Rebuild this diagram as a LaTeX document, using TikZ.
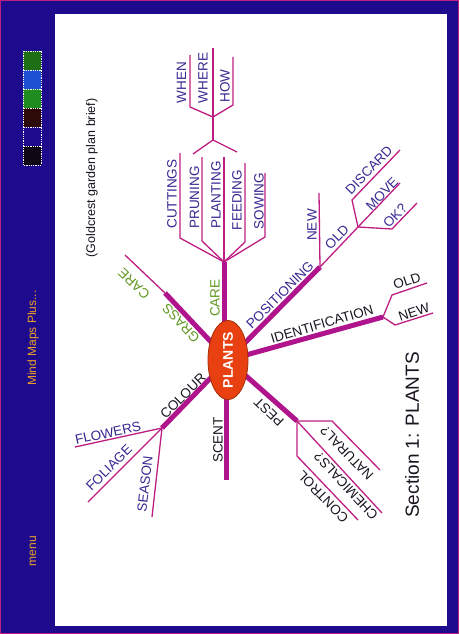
\documentclass[tikz,border=0pt]{standalone}
\usepackage{fontspec}
\setmainfont{Liberation Sans}
\usetikzlibrary{shapes.geometric}
\definecolor{frameblue}{RGB}{30,10,140}
\definecolor{mag}{RGB}{176,20,140}
\definecolor{thinmag}{RGB}{190,30,130}
\definecolor{purp}{RGB}{55,40,145}
\definecolor{grn}{RGB}{95,150,30}
\definecolor{orng}{RGB}{235,160,40}
\definecolor{plred}{RGB}{232,64,16}
\definecolor{ink}{RGB}{25,20,30}
\definecolor{swA}{RGB}{30,110,20}
\definecolor{swB}{RGB}{30,80,210}
\definecolor{swC}{RGB}{30,140,30}
\definecolor{swD}{RGB}{45,10,8}
\definecolor{swE}{RGB}{30,10,140}
\definecolor{swF}{RGB}{15,8,20}
\begin{document}
\begin{tikzpicture}[x=1pt,y=-1pt,
  trunk/.style={draw=mag,line width=5pt},
  twig/.style={draw=thinmag,line width=1.3pt,line join=round},
  lbl/.style={font=\fontsize{13.5}{15}\selectfont,inner sep=0pt},
  pl/.style={lbl,text=purp},
  bk/.style={lbl,text=ink},
  gn/.style={lbl,text=grn},
  swatch/.style={draw=white,densely dotted,line width=0.8pt}]
\useasboundingbox (0,0) rectangle (459,634);
\fill[frameblue] (0,0) rectangle (459,634);
\draw[thinmag,line width=0.8pt] (0.5,0.5) rectangle (458.5,633.5);
\fill[white] (55,14) rectangle (447,626);
% colour swatches
\foreach \c [count=\i from 0] in {swA,swB,swC,swD,swE,swF}
  \filldraw[fill=\c,swatch] (23,{51+19*\i}) rectangle (41,{70+19*\i});
\node[rotate=90,text=orng,font=\fontsize{12}{14}\selectfont,inner sep=0pt] (brand) at (33,338) {Mind Maps Plus...};
\node[rotate=90,text=orng,font=\fontsize{12}{14}\selectfont,inner sep=0pt] (menu) at (33,551) {menu};

% coordinates
\coordinate (pc) at (228,360);
\coordinate (caresrc) at (224,345);
\coordinate (care) at (224,262);
\coordinate (pos) at (320,267);
\coordinate (idn) at (383,317);
\coordinate (pest) at (297,421);
\coordinate (scsrc) at (226,380);
\coordinate (scent) at (226,480);
\coordinate (col) at (162,428);
\coordinate (gr) at (165,293);
\coordinate (grend) at (125,255);

% main trunks
\draw[trunk] (caresrc) -- (care);
\draw[trunk] (pc) -- (pos);
\draw[trunk] (pc) -- (idn);
\draw[trunk] (pc) -- (pest);
\draw[trunk] (scsrc) -- (scent);
\draw[trunk] (pc) -- (col);
\draw[trunk] (pc) -- (gr);
\draw[twig] (gr) -- (grend);

% care twigs
\coordinate (cutA) at (180,238); \coordinate (cutB) at (180,153);
\coordinate (prA) at (202,241);  \coordinate (prB) at (202,157);
\coordinate (plB) at (224,157);
\coordinate (feA) at (245,242);  \coordinate (feB) at (245,163);
\coordinate (soA) at (265,237);  \coordinate (soB) at (265,173);
\draw[twig] (care) -- (cutA) -- (cutB);
\draw[twig] (care) -- (prA) -- (prB);
\draw[twig] (care) -- (plB);
\draw[twig] (care) -- (feA) -- (feB);
\draw[twig] (care) -- (soA) -- (soB);

% when / where / how
\coordinate (wj) at (213,140); \coordinate (wk) at (213,117);
\coordinate (wl) at (193,154); \coordinate (wr) at (237,152);
\coordinate (whA) at (190,107); \coordinate (whB) at (190,55);
\coordinate (wrB) at (213,48);
\coordinate (hoA) at (233,105); \coordinate (hoB) at (233,57);
\draw[twig] (wl) -- (wj) -- (wr);
\draw[twig] (wj) -- (wk);
\draw[twig] (wk) -- (whA) -- (whB);
\draw[twig] (wk) -- (wrB);
\draw[twig] (wk) -- (hoA) -- (hoB);

% positioning twigs
\coordinate (pnew) at (319,193);
\coordinate (oldj) at (358,227);
\coordinate (diA) at (352,200); \coordinate (diB) at (400,150);
\coordinate (mvB) at (400,183);
\coordinate (okA) at (392,229); \coordinate (okB) at (417,203);
\draw[twig] (pos) -- (pnew);
\draw[twig] (pos) -- (oldj);
\draw[twig] (oldj) -- (diA) -- (diB);
\draw[twig] (oldj) -- (mvB);
\draw[twig] (oldj) -- (okA) -- (okB);

% identification twigs
\coordinate (ioA) at (392,295); \coordinate (ioB) at (427,283);
\coordinate (inA) at (395,325); \coordinate (inB) at (433,313);
\draw[twig] (idn) -- (ioA) -- (ioB);
\draw[twig] (idn) -- (inA) -- (inB);

% pest twigs
\coordinate (naA) at (332,421); \coordinate (naB) at (380,470);
\coordinate (chB) at (382,513);
\coordinate (coA) at (297,456); \coordinate (coB) at (358,520);
\draw[twig] (pest) -- (naA) -- (naB);
\draw[twig] (pest) -- (chB);
\draw[twig] (pest) -- (coA) -- (coB);

% colour twigs
\coordinate (flB) at (75,447);
\coordinate (foB) at (88,502);
\coordinate (seB) at (152,517);
\draw[twig] (col) -- (flB);
\draw[twig] (col) -- (foB);
\draw[twig] (col) -- (seB);

% centre
\node[ellipse,fill=plred,draw=plred!70!black,line width=0.8pt,minimum width=76pt,minimum height=40pt,
      rotate=90,inner sep=0pt,text=white,font=\bfseries\fontsize{14}{16}\selectfont] (plants) at (pc) {PLANTS};

% labels
\node[gn,rotate=90] (tcare) at (215,298) {CARE};
\node[pl,rotate=90] (tcut) at (172,194) {CUTTINGS};
\node[pl,rotate=90] (tpru) at (194.5,197.5) {PRUNING};
\node[pl,rotate=90] (tpla) at (216,195) {PLANTING};
\node[pl,rotate=90] (tfee) at (237,200) {FEEDING};
\node[pl,rotate=90] (tsow) at (259,201) {SOWING};
\node[pl,rotate=90] (twhen) at (181.5,82.5) {WHEN};
\node[pl,rotate=90] (twhere) at (203,78) {WHERE};
\node[pl,rotate=90] (thow) at (225,86) {HOW};

\node[pl,rotate=45] (tpos) at (280,295) {POSITIONING};
\node[pl,rotate=90] (tpnew) at (312,225) {NEW};
\node[pl,rotate=46] (tpold) at (337,237) {OLD};
\node[pl,rotate=46] (tdis) at (369,170) {DISCARD};
\node[pl,rotate=46] (tmov) at (382,194) {MOVE};
\node[pl,rotate=46] (tok) at (395,216) {OK?};

\node[bk,rotate=16.5] (tid) at (322,324) {IDENTIFICATION};
\node[bk,rotate=18] (tiold) at (407,281) {OLD};
\node[bk,rotate=18] (tinew) at (414,312) {NEW};

\node[bk,rotate=136] (tpest) at (269,412) {PEST};
\node[bk,rotate=134] (tnat) at (347,453) {NATURAL?};
\node[bk,rotate=133] (tchem) at (346,486) {CHEMICALS?};
\node[bk,rotate=134] (tcon) at (323,497) {CONTROL};

\node[bk,rotate=90] (tscent) at (218,440) {SCENT};
\node[bk,rotate=45] (tcol) at (183,396) {COLOUR};
\node[pl,rotate=12.3] (tflo) at (108,433) {FLOWERS};
\node[pl,rotate=45] (tfol) at (109,468) {FOLIAGE};
\node[pl,rotate=83.6] (tsea) at (145,484) {SEASON};

\node[gn,rotate=133] (tgrass) at (181,323) {GRASS};
\node[gn,rotate=136.5] (tgcare) at (134,284) {CARE};

\node[rotate=90,text=ink,font=\fontsize{12.5}{14}\selectfont,inner sep=0pt] (brief) at (92,178) {(Goldcrest garden plan brief)};
\node[rotate=90,text=ink,font=\fontsize{19}{22}\selectfont,inner sep=0pt] (section) at (412,435) {Section 1: PLANTS};
\end{tikzpicture}
\end{document}
